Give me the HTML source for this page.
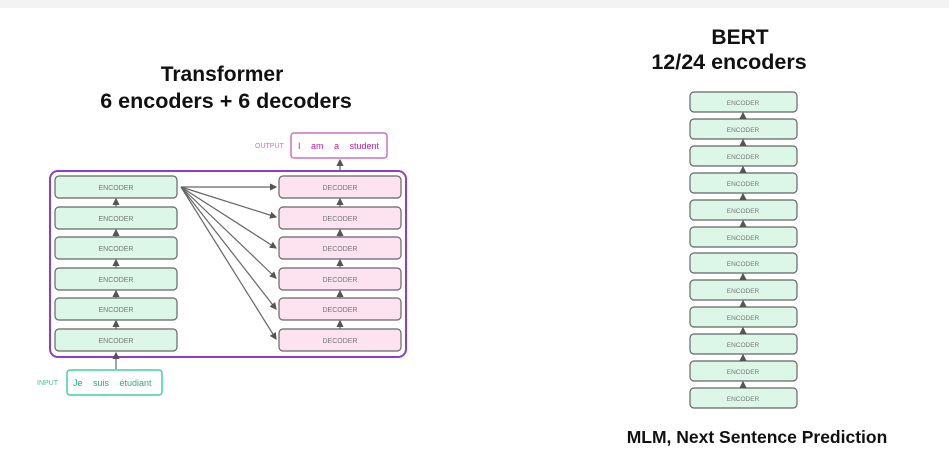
<!DOCTYPE html>
<html><head><meta charset="utf-8"><style>
body{margin:0;width:949px;height:464px;background:#fff;overflow:hidden;font-family:"Liberation Sans",sans-serif}
</style></head><body>
<svg width="949" height="464" xmlns="http://www.w3.org/2000/svg" font-family="Liberation Sans, sans-serif">
<defs><marker id="a" markerWidth="6" markerHeight="6" refX="5" refY="3" orient="auto"><path d="M0,0 L6,3 L0,6z" fill="#555"/></marker></defs>
<rect x="0" y="0" width="949" height="8" fill="#f3f3f3"/>
<text x="222" y="81" text-anchor="middle" font-size="21" font-weight="bold" fill="#111">Transformer</text>
<text x="226" y="108" text-anchor="middle" font-size="21.5" font-weight="bold" fill="#111">6 encoders + 6 decoders</text>
<text x="740" y="44" text-anchor="middle" font-size="21" font-weight="bold" fill="#111">BERT</text>
<text x="729" y="69" text-anchor="middle" font-size="21.5" font-weight="bold" fill="#111">12/24 encoders</text>
<text x="757" y="443" text-anchor="middle" font-size="17.5" font-weight="bold" fill="#111">MLM, Next Sentence Prediction</text>
<rect x="50" y="171" width="356" height="186" rx="8" fill="none" stroke="#8a3fd1" stroke-width="2"/>
<g stroke="#666" stroke-width="1.2" fill="none">
<line x1="116" y1="369" x2="116" y2="353" marker-end="url(#a)"/>
<line x1="340" y1="171" x2="340" y2="160" marker-end="url(#a)"/>
</g>
<g font-size="7" text-anchor="middle">
<g fill="#dcf7e8" stroke="#666" stroke-width="1.2">
<rect x="55" y="176" width="122" height="22" rx="4"/><rect x="55" y="207" width="122" height="22" rx="4"/><rect x="55" y="237" width="122" height="22" rx="4"/><rect x="55" y="268" width="122" height="22" rx="4"/><rect x="55" y="298" width="122" height="22" rx="4"/><rect x="55" y="329" width="122" height="22" rx="4"/>
</g>
<g fill="#fde3ef" stroke="#666" stroke-width="1.2">
<rect x="279" y="176" width="122" height="22" rx="4"/><rect x="279" y="207" width="122" height="22" rx="4"/><rect x="279" y="237" width="122" height="22" rx="4"/><rect x="279" y="268" width="122" height="22" rx="4"/><rect x="279" y="298" width="122" height="22" rx="4"/><rect x="279" y="329" width="122" height="22" rx="4"/>
</g>
<g fill="#777">
<text x="116" y="190">ENCODER</text><text x="116" y="221">ENCODER</text><text x="116" y="251">ENCODER</text><text x="116" y="282">ENCODER</text><text x="116" y="312">ENCODER</text><text x="116" y="343">ENCODER</text>
<text x="340" y="190">DECODER</text><text x="340" y="221">DECODER</text><text x="340" y="251">DECODER</text><text x="340" y="282">DECODER</text><text x="340" y="312">DECODER</text><text x="340" y="343">DECODER</text>
</g>
</g>
<g stroke="#666" stroke-width="1.2" fill="none">
<line x1="116" y1="207" x2="116" y2="199" marker-end="url(#a)"/><line x1="116" y1="237" x2="116" y2="230" marker-end="url(#a)"/><line x1="116" y1="268" x2="116" y2="260" marker-end="url(#a)"/><line x1="116" y1="298" x2="116" y2="291" marker-end="url(#a)"/><line x1="116" y1="329" x2="116" y2="321" marker-end="url(#a)"/>
<line x1="340" y1="207" x2="340" y2="199" marker-end="url(#a)"/><line x1="340" y1="237" x2="340" y2="230" marker-end="url(#a)"/><line x1="340" y1="268" x2="340" y2="260" marker-end="url(#a)"/><line x1="340" y1="298" x2="340" y2="291" marker-end="url(#a)"/><line x1="340" y1="329" x2="340" y2="321" marker-end="url(#a)"/>
<line x1="181" y1="187" x2="276" y2="187" marker-end="url(#a)"/>
<line x1="181" y1="187" x2="276" y2="217" marker-end="url(#a)"/>
<line x1="181" y1="187" x2="276" y2="248" marker-end="url(#a)"/>
<line x1="181" y1="187" x2="276" y2="278" marker-end="url(#a)"/>
<line x1="181" y1="187" x2="276" y2="309" marker-end="url(#a)"/>
<line x1="181" y1="187" x2="276" y2="339" marker-end="url(#a)"/>
</g>
<rect x="291" y="133" width="96" height="25" rx="3" fill="#fff" stroke="#d070c0" stroke-width="1.5"/>
<text x="255" y="148" font-size="7" fill="#d070c0">OUTPUT</text>
<text x="298" y="149" font-size="9" fill="#c020a0" word-spacing="8">I am a student</text>
<rect x="67" y="370" width="95" height="25" rx="3" fill="#fff" stroke="#40d0a0" stroke-width="1.5"/>
<text x="37" y="385" font-size="7" fill="#40c090">INPUT</text>
<text x="73" y="386" font-size="9" fill="#20b080" word-spacing="8">Je suis étudiant</text>
<g stroke="#666" stroke-width="1.2" fill="#dcf7e8">
<rect x="690" y="92" width="107" height="20" rx="4"/><rect x="690" y="119" width="107" height="20" rx="4"/><rect x="690" y="146" width="107" height="20" rx="4"/><rect x="690" y="173" width="107" height="20" rx="4"/><rect x="690" y="200" width="107" height="20" rx="4"/><rect x="690" y="227" width="107" height="20" rx="4"/><rect x="690" y="253" width="107" height="20" rx="4"/><rect x="690" y="280" width="107" height="20" rx="4"/><rect x="690" y="307" width="107" height="20" rx="4"/><rect x="690" y="334" width="107" height="20" rx="4"/><rect x="690" y="361" width="107" height="20" rx="4"/><rect x="690" y="388" width="107" height="20" rx="4"/>
</g>
<g font-size="6.5" fill="#777" text-anchor="middle">
<text x="743" y="105">ENCODER</text><text x="743" y="132">ENCODER</text><text x="743" y="159">ENCODER</text><text x="743" y="186">ENCODER</text><text x="743" y="213">ENCODER</text><text x="743" y="240">ENCODER</text><text x="743" y="266">ENCODER</text><text x="743" y="293">ENCODER</text><text x="743" y="320">ENCODER</text><text x="743" y="347">ENCODER</text><text x="743" y="374">ENCODER</text><text x="743" y="401">ENCODER</text>
</g>
<g stroke="#666" stroke-width="1.2">
<line x1="743" y1="119" x2="743" y2="113" marker-end="url(#a)"/><line x1="743" y1="146" x2="743" y2="140" marker-end="url(#a)"/><line x1="743" y1="173" x2="743" y2="167" marker-end="url(#a)"/><line x1="743" y1="200" x2="743" y2="194" marker-end="url(#a)"/><line x1="743" y1="227" x2="743" y2="221" marker-end="url(#a)"/><line x1="743" y1="280" x2="743" y2="274" marker-end="url(#a)"/><line x1="743" y1="307" x2="743" y2="301" marker-end="url(#a)"/><line x1="743" y1="334" x2="743" y2="328" marker-end="url(#a)"/><line x1="743" y1="361" x2="743" y2="355" marker-end="url(#a)"/><line x1="743" y1="388" x2="743" y2="382" marker-end="url(#a)"/>
</g>
</svg>
</body></html>
